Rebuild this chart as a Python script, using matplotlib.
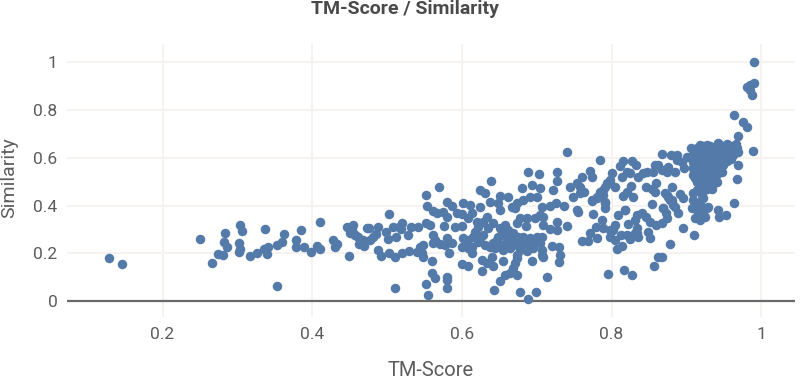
import matplotlib
matplotlib.use('Agg')
import matplotlib.pyplot as plt

# (tm-score, similarity), left to right
low_tm = [
    (.1285, .1815), (.1454, .156), (.2496, .261), (.2656, .159), (.274, .195), (.281, .191),
    (.2834, .283), (.2826, .248), (.2857, .228), (.302, .242), (.3035, .216), (.3026, .204),
    (.304, .32), (.3066, .293), (.317, .187), (.3257, .2025), (.337, .30), (.3355, .216),
    (.341, .228), (.339, .195), (.3534, .064), (.3534, .233), (.359, .247), (.3627, .281),
    (.379, .255), (.379, .228), (.3845, .297), (.3894, .226), (.399, .204), (.407, .2304),
    (.411, .219), (.4104, .331), (.428, .254), (.4335, .2402), (.431, .226), (.449, .19),
    (.446, .309), (.455, .317), (.4505, .286), (.457, .277), (.4616, .267), (.4625, .24),
]

mid_tm = [
    (.4527, .297), (.4571, .2765), (.4638, .2415), (.4692, .2304), (.4683, .2555), (.4727, .3044),
    (.4763, .307), (.4772, .2555), (.4816, .2695), (.4852, .2792), (.4883, .3086), (.4883, .2136),
    (.4914, .1885), (.4986, .2904), (.5008, .2597), (.503, .3644), (.5026, .1996), (.5106, .1857),
    (.512, .2667), (.5195, .1996), (.5106, .053), (.5084, .3086), (.5164, .3086), (.5195, .3254),
    (.5182, .3002), (.5293, .2108), (.5284, .2765), (.5315, .3086), (.5417, .3086), (.5404, .2066),
    (.544, .2276), (.5484, .1857), (.5484, .2346), (.5462, .1996), (.552, .3254), (.5573, .3184),
    (.5516, .4441), (.5538, .3994), (.5698, .4762), (.5618, .3784), (.567, .37), (.5609, .2765),
    (.564, .2555), (.5618, .2443), (.5605, .1689), (.5596, .1158), (.564, .0949), (.552, .0725),
    (.5547, .025), (.5796, .1019), (.5796, .0879), (.5796, .053), (.5707, .2387), (.5796, .2625),
    (.5863, .2443), (.5774, .2346), (.5832, .2024), (.576, .3142), (.5752, .3742), (.5805, .3505),
    (.5805, .4133), (.5863, .3994), (.5907, .3114), (.5997, .3142), (.593, .37), (.601, .4092),
    (.6108, .4022), (.5997, .3644), (.6086, .3463), (.613, .3672), (.6241, .3952), (.6241, .465),
    (.6308, .4538), (.6384, .5013), (.6375, .4147), (.6509, .4399), (.6486, .4092), (.6509, .3812),
    (.662, .4343), (.6664, .3952), (.6798, .472), (.6932, .486), (.6887, .5418), (.7034, .5321),
    (.7266, .5418), (.7266, .5027), (.7408, .6228), (.7212, .465), (.7043, .472), (.6998, .4343),
    (.6909, .4371), (.682, .4231), (.6731, .4092), (.6709, .3882), (.7065, .3952), (.7177, .3979),
    (.7257, .4092), (.7364, .3979), (.7043, .3603), (.7088, .3533), (.6977, .3463), (.7266, .3323),
    (.74, .3142), (.7177, .3002), (.7266, .2974), (.6197, .3323), (.633, .3533), (.6286, .3323),
    (.642, .3254), (.6731, .3254), (.6776, .3463), (.6865, .3463), (.6856, .3142), (.7088, .3184),
]

mid_cluster = [
    (.6509, .3044), (.6575, .3184), (.662, .2974), (.6553, .2765), (.6642, .2695), (.6709, .2555),
    (.6464, .2555), (.6509, .2346), (.6598, .2415), (.6687, .2346), (.6776, .2415), (.6843, .2555),
    (.6909, .2625), (.6998, .2695), (.7065, .2667), (.6954, .2415), (.6865, .2276), (.6776, .2136),
    (.6442, .2206), (.6553, .2136), (.6642, .2206), (.6731, .1927), (.6798, .2276), (.6019, .2625),
    (.6086, .2555), (.6152, .2695), (.6241, .2625), (.6041, .2346), (.613, .2276), (.6219, .2485),
    (.6308, .2346), (.5997, .2276), (.6086, .2206), (.6175, .2904), (.6219, .3114), (.6286, .2765),
    (.6353, .3044), (.613, .1996), (.6397, .1857), (.6553, .1689), (.6264, .1717), (.633, .1605),
    (.641, .1466), (.6264, .127), (.5997, .155), (.6086, .1466), (.6731, .1787), (.6709, .1577),
    (.6687, .1368), (.6731, .1089), (.6575, .1089), (.6642, .1158), (.6509, .0851), (.6428, .046),
    (.6776, .0376), (.6883, .0083), (.6994, .039), (.7132, .0991), (.6932, .1689), (.7065, .1927),
    (.7065, .2136), (.7203, .2304), (.7301, .2248), (.731, .1927), (.7301, .1647), (.7043, .2415),
    (.7088, .1829), (.6531, .2905), (.6686, .2837), (.6753, .2692), (.6487, .2695), (.6598, .2555),
    (.6865, .2415), (.682, .2695), (.6909, .2485), (.6932, .2276), (.6998, .2555), (.6621, .2276),
    (.6487, .2415), (.6376, .2276), (.6419, .2415), (.6865, .2105), (.6954, .2208),
]

upper_band = [
    (.7845, .5906), (.7712, .546), (.7734, .5208), (.76, .5208), (.7534, .4928), (.7445, .4761),
    (.748, .437), (.7578, .4789), (.7578, .4537), (.7632, .4579), (.8157, .5878), (.8268, .5878),
    (.8326, .5696), (.8113, .5655), (.8001, .5347), (.8202, .5417), (.8246, .5347), (.8135, .518),
    (.8358, .5208), (.847, .5417), (.8424, .5347), (.858, .5696), (.8625, .5696), (.8558, .5417),
    (.8669, .5487), (.8758, .5627), (.8848, .5417), (.8736, .5417), (.887, .5906), (.8968, .5557),
    (.8937, .5836), (.9003, .6046), (.9057, .6423), (.8669, .6171), (.879, .613), (.887, .6115),
    (.7934, .4928), (.7912, .4789), (.8046, .4789), (.7845, .4579), (.7801, .437), (.7734, .4202),
    (.7912, .409), (.789, .444), (.7979, .5068), (.846, .4789), (.8536, .4691), (.8594, .4928),
    (.858, .4579), (.8255, .483), (.8202, .4579), (.8157, .4412), (.8291, .437), (.8803, .4789),
    (.8736, .444), (.8914, .4481), (.8959, .43), (.8781, .423), (.8825, .402), (.8536, .4063),
    (.8683, .3881), (.7543, .3811), (.8179, .3811),
]

top_right = [
    (.99, 1.0), (.9805, .8979), (.985, .9048), (.9907, .9118), (.985, .8839), (.9881, .863),
    (.964, .7778), (.976, .7512), (.9805, .7289), (.9685, .691), (.9894, .6297), (.9671, .511),
    (.9337, .4692), (.9693, .5696),
]

dense_block = [
    (.9181, .6535), (.9226, .6488), (.9271, .6535), (.9315, .6507), (.9418, .6632), (.9449, .6535),
    (.9538, .6577), (.9604, .6507), (.9658, .6563),
    (.9137, .6395), (.9181, .6423), (.9226, .6367), (.9271, .6395), (.9315, .6423), (.936, .6367),
    (.9404, .6395), (.9449, .6423), (.9493, .6367), (.9538, .6395), (.9582, .6423), (.9627, .6367),
    (.9671, .6395),
    (.9115, .6255), (.9159, .6283), (.9204, .6227), (.9248, .6255), (.9293, .6283), (.9338, .6227),
    (.9382, .6255), (.9427, .6283), (.9471, .6227), (.9516, .6255), (.956, .6283), (.9605, .6227),
    (.9649, .6255), (.9694, .6227),
    (.9092, .6116), (.9137, .6144), (.9181, .6088), (.9226, .6116), (.9271, .6144), (.9315, .6088),
    (.936, .6116), (.9404, .6144), (.9449, .6088), (.9493, .6116), (.9538, .6144), (.9582, .6088),
    (.9627, .6116),
    (.9101, .5976), (.9146, .6004), (.919, .5948), (.9235, .5976), (.9279, .6004), (.9324, .5948),
    (.9368, .5976), (.9413, .6004), (.9458, .5948), (.9502, .5976), (.9547, .6004), (.9591, .5948),
    (.9092, .5836), (.9137, .5864), (.9181, .5808), (.9226, .5836), (.9271, .5864), (.9315, .5808),
    (.936, .5836), (.9404, .5864), (.9449, .5808), (.9493, .5836), (.9538, .5864),
    (.9101, .5696), (.9146, .5724), (.919, .5668), (.9235, .5696), (.9279, .5724), (.9324, .5668),
    (.9368, .5696), (.9413, .5724), (.9458, .5668), (.9493, .5696),
    (.9092, .5557), (.9137, .5585), (.9181, .5529), (.9226, .5557), (.9271, .5585), (.9315, .5529),
    (.936, .5557), (.9404, .5585), (.9449, .5529),
    (.9101, .5417), (.9146, .5445), (.919, .5389), (.9235, .5417), (.9279, .5445), (.9324, .5389),
    (.9368, .5417), (.9413, .5445), (.9471, .5417),
    (.9092, .5278), (.9137, .5306), (.9181, .525), (.9226, .5278), (.9271, .5306), (.9315, .525),
    (.936, .5278), (.9404, .5306),
    (.9115, .5138), (.9159, .5166), (.9204, .511), (.9248, .5138), (.9293, .5166), (.9338, .511),
    (.9382, .5138),
    (.9137, .4998), (.9181, .5026), (.9226, .497), (.9271, .4998), (.9315, .5026), (.936, .497),
    (.9404, .4998),
    (.9181, .4859), (.9226, .4887), (.9271, .4831), (.9315, .4859), (.936, .4887),
    (.9181, .4719), (.9226, .4747), (.9271, .4691), (.9315, .4719),
]

lower_right = [
    (.964, .4091), (.9426, .3812), (.944, .3533), (.9524, .3603), (.9092, .4538), (.9226, .4301),
    (.9137, .465), (.9204, .444), (.907, .3882), (.9137, .4022), (.9204, .3952), (.9271, .3882),
    (.9115, .3463), (.9181, .3393), (.9248, .3533), (.9159, .3672), (.9092, .4231), (.9181, .4161),
    (.9226, .3742), (.9293, .3924), (.8959, .3044), (.9101, .2765), (.8888, .3672), (.8847, .3952),
    (.8803, .4231), (.8758, .4371), (.8714, .451), (.8692, .3882), (.8727, .3672), (.8745, .3463),
    (.8669, .3281), (.8594, .3184), (.8513, .3323), (.846, .3533), (.8402, .3672), (.8335, .3603),
    (.8313, .3393), (.8224, .3226), (.8344, .3044), (.8313, .2834), (.8358, .2667), (.8246, .2583),
    (.8202, .2765), (.8491, .2904), (.8513, .2625), (.8781, .2387), (.8625, .1857), (.8669, .1857),
    (.8571, .1466), (.8179, .3812), (.8081, .3603), (.8046, .3184), (.8023, .2974), (.7979, .2667),
    (.8046, .2555), (.8135, .2304), (.8068, .2178), (.7948, .1116), (.8166, .1298), (.8273, .1103),
    (.7868, .3393), (.789, .3044), (.7792, .3086), (.7712, .2834), (.781, .2625), (.769, .2527),
    (.76, .2527), (.7756, .3644), (.7551, .3742), (.7912, .3882), (.7734, .4231), (.7801, .4301),
    (.789, .465), (.7979, .4929), (.7912, .4161), (.8124, .2778), (.7979, .2975), (.8335, .2834),
]

x_ticks = [0.2, 0.4, 0.6, 0.8, 1]
y_ticks = [0, 0.2, 0.4, 0.6, 0.8, 1]
x_labels = ['0.2', '0.4', '0.6', '0.8', '1']
y_labels = ['0', '0.2', '0.4', '0.6', '0.8', '1']

plt.rcParams['font.family'] = ['Roboto', 'DejaVu Sans']

fig = plt.figure(figsize=(8, 3.8), dpi=100)
ax = fig.add_axes([67 / 800, 63 / 380, 728 / 800, 273 / 380])

points = low_tm + mid_tm + mid_cluster + upper_band + top_right + dense_block + lower_right
tm_score = [p[0] for p in points]
similarity = [p[1] for p in points]

ax.scatter(tm_score, similarity, s=47, color='#537aa9', linewidths=0, zorder=3, clip_on=False)
ax.axhline(0, color='#6a6a6a', linewidth=1.6, zorder=2)

ax.set_xlim(0.0724, 1.045)
ax.set_ylim(-0.067, 1.077)
ax.set_xticks(x_ticks, x_labels)
ax.set_yticks(y_ticks, y_labels)
ax.tick_params(length=0, labelsize=12.5, labelcolor='#5c5c5c', pad=7)
ax.grid(color='#f5f2ef', linewidth=1.4)
ax.set_axisbelow(True)
for side in ax.spines.values():
    side.set_visible(False)

fig.text(405 / 800, 1 - 9 / 380, 'TM-Score / Similarity', ha='center', va='center',
         fontsize=14, fontweight='bold', color='#4a4a4a')
fig.text(431 / 800, 1 - 370 / 380, 'TM-Score', ha='center', va='center', fontsize=14.5, color='#5c5c5c')
fig.text(9 / 800, 1 - 178 / 380, 'Similarity', ha='center', va='center', rotation=90,
         fontsize=14, color='#5c5c5c')

fig.savefig('out.png', dpi=100)
